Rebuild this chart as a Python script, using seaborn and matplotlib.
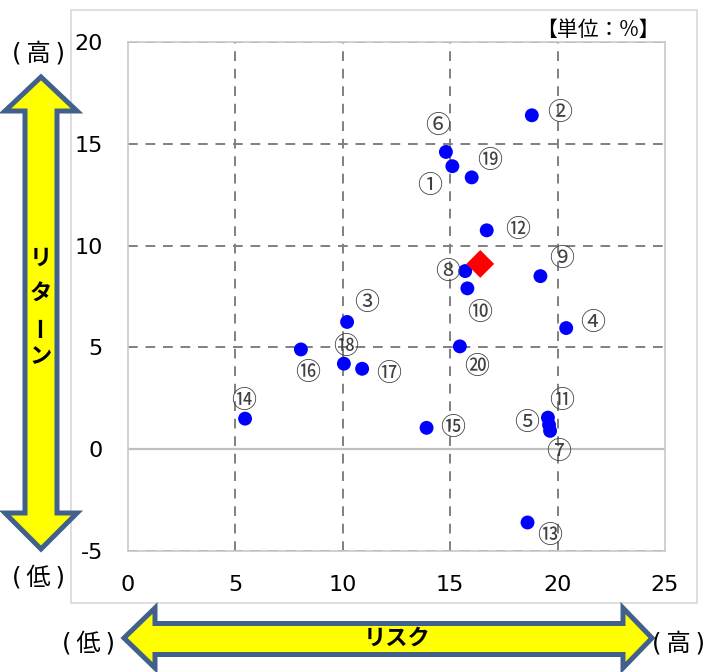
import matplotlib
matplotlib.use("Agg")
import matplotlib.pyplot as plt
from matplotlib.patches import Polygon, Rectangle
import seaborn as sns
import pandas as pd

# ---- data ----
labels = ["①", "②", "③", "④", "⑤", "⑥", "⑦", "⑧", "⑨", "⑩",
          "⑪", "⑫", "⑬", "⑭", "⑮", "⑯", "⑰", "⑱", "⑲", "⑳"]
risk = [15.1, 18.8, 10.2, 20.4, 19.6, 14.8, 19.65, 15.7, 19.2, 15.8,
        19.55, 16.7, 18.6, 5.45, 13.9, 8.05, 10.9, 10.05, 16.0, 15.45]
ret = [13.9, 16.4, 6.25, 5.95, 1.2, 14.6, 0.9, 8.75, 8.5, 7.9,
       1.55, 10.75, -3.6, 1.5, 1.05, 4.9, 3.95, 4.2, 13.35, 5.05]
avg_risk = [16.4]
avg_ret = [9.1]
x_ticks = [0, 5, 10, 15, 20, 25]
y_ticks = [-5, 0, 5, 10, 15, 20]

# label offsets (points) relative to each marker
label_off = [(-16, -14), (20, 2), (14, 14), (19, 4), (-16, 1), (-6, 19),
             (6, -15), (-13, -1), (15, 12), (9, -18), (10, 12), (22, 0),
             (16, -10), (-1, 13), (19, 0), (5, -17), (19, -4), (1, 12),
             (13, 12), (12, -15)]

W, H = 705, 672
sns.set_theme(style="white")
plt.rcParams["font.family"] = ["DejaVu Sans", "Noto Sans CJK JP"]
fig = plt.figure(figsize=(W / 100, H / 100), dpi=100)
fig.patch.set_facecolor("white")


def fx(x):
    return x / W


def fy(y):
    return 1 - y / H


# outer chart frame
fig.patches.append(Rectangle((fx(71), fy(603)), fx(697) - fx(71), fy(10) - fy(603),
                             transform=fig.transFigure, fill=False,
                             edgecolor="#d9d9d9", lw=1.2, zorder=0))

ax = fig.add_axes([fx(128), fy(551), fx(665) - fx(128), fy(42) - fy(551)])
ax.set_facecolor("white")

df = pd.DataFrame({"risk": risk, "ret": ret, "label": labels})
sns.scatterplot(data=df, x="risk", y="ret", ax=ax, color="#0000FF", s=100,
                edgecolor="none", zorder=4)
sns.scatterplot(x=avg_risk, y=avg_ret, ax=ax, color="#FF0000", marker="D",
                s=200, edgecolor="none", zorder=5)

for lab, xv, yv, (dx, dy) in zip(labels, risk, ret, label_off):
    ax.annotate(lab, (xv, yv), xytext=(dx, dy), textcoords="offset points",
                ha="center", va="center", fontsize=18, color="#404040",
                family=["Noto Sans CJK JP", "DejaVu Sans"], zorder=6)

ax.set_xlim(0, 25)
ax.set_ylim(-5, 20)
ax.set_xticks(x_ticks)
ax.set_yticks(y_ticks)
ax.set_xticklabels([str(v) for v in x_ticks])
ax.set_yticklabels([str(v) for v in y_ticks])
ax.set_xlabel("")
ax.set_ylabel("")
ax.tick_params(axis="both", length=0, labelsize=16, colors="black")
ax.tick_params(axis="x", pad=17)
ax.tick_params(axis="y", pad=18)

for v in x_ticks[1:-1]:
    ax.axvline(v, color="#808080", lw=1.4, ls=(0, (5, 4)), zorder=1)
for v in [5, 10, 15, 20, -5]:
    ax.axhline(v, color="#808080", lw=1.4, ls=(0, (5, 4)), zorder=1)
ax.axhline(0, color="#c0c0c0", lw=1.6, zorder=2)
for s in ax.spines.values():
    s.set_color("#c8c8c8")
    s.set_linewidth(1.2)

cjk = ["Noto Sans CJK JP", "DejaVu Sans"]
lat = ["DejaVu Sans", "Noto Sans CJK JP"]

# unit label
fig.text(fx(598), fy(30), "【単位：%】", ha="center", va="center", fontsize=15,
         family=cjk, color="black")

# arrows
arrow_col = "#41618C"
v_arrow = [(41, 77), (77, 111), (57, 111), (57, 513), (77, 513), (41, 549),
           (5, 513), (25, 513), (25, 111), (5, 111)]
h_arrow = [(124, 638), (155, 608), (155, 623.5), (623, 623.5), (623, 608),
           (652, 638), (623, 668), (623, 654.5), (155, 654.5), (155, 668)]
for pts in (v_arrow, h_arrow):
    fig.patches.append(Polygon([(fx(x), fy(y)) for x, y in pts], closed=True,
                               transform=fig.transFigure, facecolor="#FFFF00",
                               edgecolor=arrow_col, lw=3.6, joinstyle="miter",
                               zorder=1))

# vertical text リターン
for ch, yy, rot in [("リ", 258, 0), ("タ", 294, 0), ("ー", 326, 90), ("ン", 357, 0)]:
    fig.text(fx(41), fy(yy), ch, ha="center", va="center", fontsize=16,
             fontweight="bold", family=cjk, rotation=rot, color="black")
fig.text(fx(397), fy(638), "リスク", ha="center", va="center", fontsize=16,
         fontweight="bold", family=cjk, color="black")

side = "(\u2009{}\u2009)"
for ch, x, y in [("高", 39, 54), ("低", 39, 578), ("低", 88, 643),
                 ("高", 679, 643)]:
    fig.text(fx(x), fy(y), side.format(ch), ha="center", va="center",
             fontsize=17.5, family=lat, color="black")

fig.savefig("out.png", dpi=100, facecolor="white")
